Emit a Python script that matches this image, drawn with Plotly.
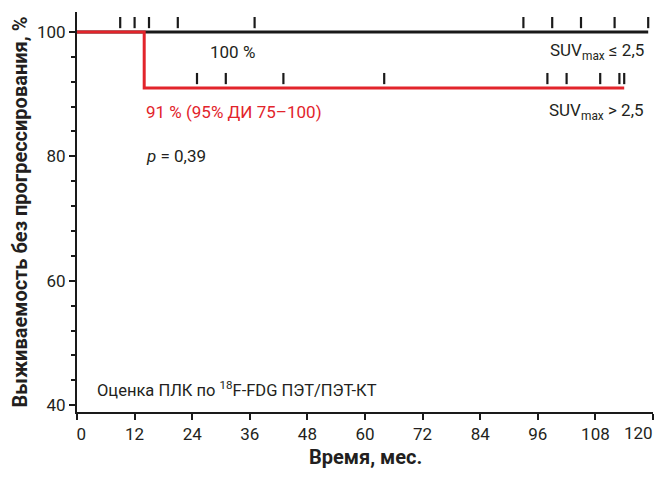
import plotly.graph_objects as go

# ---- data ----
months_low = [0, 119]                 # SUV max <= 2.5 curve (time, months)
surv_low = [100, 100]
months_high = [0, 14, 14, 114]        # SUV max > 2.5 curve
surv_high = [100, 100, 91, 91]
censor_low = [9, 12, 15, 21, 37, 93, 99, 105, 112, 119]
censor_high = [25, 31, 43, 64, 98, 102, 109, 113, 114]
censor_low_surv = 100
censor_high_surv = 91
x_ticks = [0, 12, 24, 36, 48, 60, 72, 84, 96, 108, 120]
y_ticks = [40, 60, 80, 100]

BLACK = "#1a1a1a"
RED = "#e2242b"
TXT = "#231f20"
MARK_OFF = 1.5  # vertical offset of censor ticks above the curve (style)
NB = "\u00a0"

fig = go.Figure()
fig.add_trace(go.Scatter(x=months_low, y=surv_low, mode="lines",
                         line=dict(color=BLACK, width=3), showlegend=False))
fig.add_trace(go.Scatter(x=months_high, y=surv_high, mode="lines",
                         line=dict(color=RED, width=3), showlegend=False))
fig.add_trace(go.Scatter(x=censor_low, y=[censor_low_surv + MARK_OFF] * len(censor_low),
                         mode="markers",
                         marker=dict(symbol="line-ns", size=8, line=dict(width=2.2, color=BLACK)),
                         showlegend=False))
fig.add_trace(go.Scatter(x=censor_high, y=[censor_high_surv + MARK_OFF] * len(censor_high),
                         mode="markers",
                         marker=dict(symbol="line-ns", size=8, line=dict(width=2.2, color=BLACK)),
                         showlegend=False))

font_main = "Roboto, Arial, sans-serif"
ann = [
    dict(x=27.3, y=96.8, text="100 %", xanchor="left", font=dict(color=TXT, size=17)),
    dict(x=118.6, y=96.8, text="SUV<sub>max</sub> ≤ 2,5", xanchor="right", font=dict(color=TXT, size=17)),
    dict(x=13.9, y=87.2, text="91 % (95% ДИ 75–100)", xanchor="left", font=dict(color=RED, size=17)),
    dict(x=118.6, y=87.2, text="SUV<sub>max</sub> > 2,5", xanchor="right", font=dict(color=TXT, size=17)),
    dict(x=13.9, y=80.0, text="<i>p</i> = 0,39", xanchor="left", font=dict(color=TXT, size=17)),
    dict(x=3.8, y=42.6, text="Оценка ПЛК по <sup>18</sup>F-FDG ПЭТ/ПЭТ-КТ", xanchor="left",
         font=dict(color=TXT, size=16.5)),
]
for a in ann:
    a.update(xref="x", yref="y", showarrow=False, yanchor="middle")

# last x tick label drawn as an annotation so it stays inside the page edge
x_ticktext = [str(v) for v in x_ticks]
x_ticktext[0] = NB * 2 + x_ticktext[0]
last_label = x_ticktext[-1]
x_ticktext[-1] = ""
ann.append(dict(x=x_ticks[-1], y=0, xref="x", yref="paper", xanchor="right", yanchor="top",
                xshift=2, yshift=-9, showarrow=False, text=last_label,
                font=dict(size=17, color=TXT)))
# x-axis title
ann.append(dict(x=0.5, y=0, xref="paper", yref="paper", xanchor="center", yanchor="middle",
                yshift=-45, showarrow=False, text="<b>Время, мес.</b>",
                font=dict(size=20, color=TXT)))

# the page body has an 8px margin; the figure is sized to fit inside the window
fig.update_layout(
    width=647, height=461,
    margin=dict(l=69, r=2, t=4, b=57, autoexpand=False),
    paper_bgcolor="white", plot_bgcolor="white",
    font=dict(family=font_main, color=TXT, size=16),
    annotations=ann,
)
fig.update_xaxes(
    range=[0, 120], tickvals=x_ticks, ticktext=x_ticktext,
    showgrid=False, zeroline=False, showline=True, linecolor=BLACK, linewidth=2,
    ticks="outside", ticklen=6, tickwidth=2, tickcolor=BLACK,
    tickfont=dict(size=17, color=TXT), automargin=False, ticklabeloverflow="allow",
)
fig.update_yaxes(
    range=[38.9, 103.2], tickvals=y_ticks, ticktext=[str(v) for v in y_ticks],
    showgrid=False, zeroline=False, showline=True, linecolor=BLACK, linewidth=2,
    ticks="outside", ticklen=6, tickwidth=2, tickcolor=BLACK,
    tickfont=dict(size=17, color=TXT), automargin=False, ticklabeloverflow="allow",
    minor=dict(tickvals=[44, 48, 52, 56, 64, 68, 72, 76, 84, 88, 92, 96],
               ticks="outside", ticklen=4, tickwidth=2, tickcolor=BLACK),
    title=dict(text="<b>Выживаемость без прогрессирования, %</b>",
               font=dict(size=20, color=TXT), standoff=6),
)
fig.write_html("out.html")
